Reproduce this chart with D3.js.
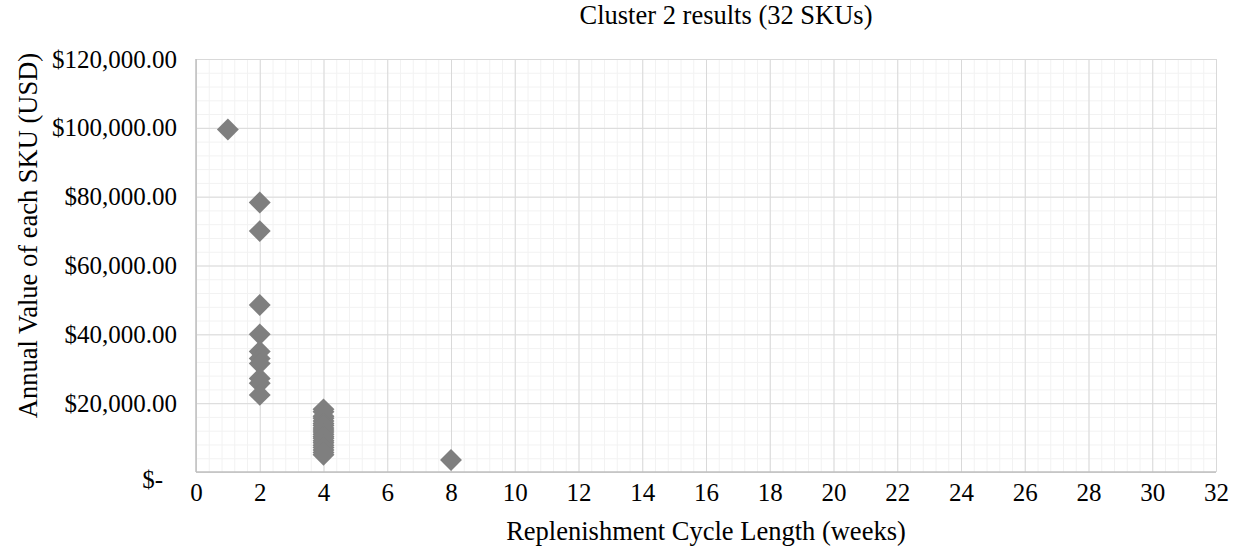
<!DOCTYPE html>
<html lang="en">
<head>
  <meta charset="UTF-8">
  <title>Cluster 2 results</title>
  <script src="https://d3js.org/d3.v7.min.js"></script>
  <style>
    html, body {
      margin: 0;
      padding: 0;
      background: #fff;
    }
    text {
      font-family: "Liberation Serif", "Times New Roman", serif;
      fill: #000;
    }
    .grid-minor line { stroke: #f2f2f2; }
    .grid-major line { stroke: #d9d9d9; }
    .frame { stroke: #bfbfbf; stroke-width: 1.5; }
    .dot { fill: #7f7f7f; }
  </style>
</head>
<body>
  <div id="container"></div>
  <script>
    const width = 1236;
    const height = 551;

    // cycle length (weeks) and annual value (USD) of each SKU
    const cycleWeeks = [1,
      2, 2, 2, 2, 2, 2, 2, 2, 2, 2,
      4, 4, 4, 4, 4, 4, 4, 4, 4, 4, 4, 4, 4, 4, 4, 4, 4, 4, 4, 4,
      8];
    const annualValue = [99500,
      78300, 70000, 48500, 40000, 35000, 33000, 31500, 27200, 25800, 22400,
      18200, 17500, 16200, 15600, 14800, 14100, 13500, 12800, 12200, 11600,
      11000, 10300, 9800, 9100, 8500, 7800, 7100, 6400, 5700, 5000,
      3500];

    const xTicks = d3.range(0, 33, 2);
    const yTicks = d3.range(0, 120001, 20000);

    const title = 'Cluster 2 results (32 SKUs)';
    const xTitle = 'Replenishment Cycle Length (weeks)';
    const yTitle = 'Annual Value of each SKU (USD)';

    const margin = {top: 59, right: 20, bottom: 79, left: 196};
    const plotW = width - margin.left - margin.right;
    const plotH = height - margin.top - margin.bottom;

    const svg = d3.select('#container').append('svg')
      .attr('width', width).attr('height', height);

    const g = svg.append('g').attr('transform', `translate(${margin.left},${margin.top})`);

    const xScale = d3.scaleLinear().domain([0, 32]).range([0, plotW]);
    const yScale = d3.scaleLinear().domain([0, 120000]).range([plotH, 0]);

    // minor grid
    g.append('g').attr('class', 'grid-minor')
      .call(d3.axisBottom(xScale).tickValues(d3.range(0, 32.01, 0.4)).tickSize(-plotH).tickFormat(''))
      .attr('transform', `translate(0,${plotH})`)
      .call(s => s.select('.domain').remove());
    g.append('g').attr('class', 'grid-minor')
      .call(d3.axisLeft(yScale).tickValues(d3.range(0, 120001, 4000)).tickSize(-plotW).tickFormat(''))
      .call(s => s.select('.domain').remove());

    // major grid
    g.append('g').attr('class', 'grid-major')
      .call(d3.axisBottom(xScale).tickValues(xTicks).tickSize(-plotH).tickFormat(''))
      .attr('transform', `translate(0,${plotH})`)
      .call(s => s.select('.domain').remove());
    g.append('g').attr('class', 'grid-major')
      .call(d3.axisLeft(yScale).tickValues(yTicks).tickSize(-plotW).tickFormat(''))
      .call(s => s.select('.domain').remove());

    // left and bottom frame
    g.append('line').attr('class', 'frame')
      .attr('x1', 0).attr('x2', 0).attr('y1', 0).attr('y2', plotH);
    g.append('line').attr('class', 'frame')
      .attr('x1', 0).attr('x2', plotW).attr('y1', plotH).attr('y2', plotH);

    // tick labels
    const fmt = d3.format(',.2f');
    g.append('g').attr('class', 'x-labels')
      .call(d3.axisBottom(xScale).tickValues(xTicks).tickSize(0).tickPadding(11))
      .attr('transform', `translate(0,${plotH})`)
      .call(s => s.select('.domain').remove())
      .selectAll('text').style('font-size', '25px');

    g.append('g').attr('class', 'y-labels')
      .call(d3.axisLeft(yScale).tickValues(yTicks).tickSize(0).tickPadding(19)
        .tickFormat(d => d === 0 ? '$-' : '$' + fmt(d)))
      .call(s => s.select('.domain').remove())
      .selectAll('text').style('font-size', '25px')
      .attr('dx', d => d === 0 ? -14 : 0)
      .attr('y', d => d === 0 ? 7 : 0);

    // points
    const diamond = d3.symbol().type(d3.symbolSquare).size(240);
    g.selectAll('.dot').data(cycleWeeks).join('path')
      .attr('class', 'dot')
      .attr('d', diamond)
      .attr('transform', (d, i) => `translate(${xScale(d)},${yScale(annualValue[i])}) rotate(45)`);

    // titles
    svg.append('text').attr('x', 726).attr('y', 24)
      .attr('text-anchor', 'middle').style('font-size', '26.5px').text(title);
    svg.append('text').attr('x', margin.left + plotW / 2).attr('y', 540)
      .attr('text-anchor', 'middle').style('font-size', '26.5px').text(xTitle);
    svg.append('text').attr('transform', `translate(37,${margin.top + plotH / 2 - 30}) rotate(-90)`)
      .attr('text-anchor', 'middle').style('font-size', '26.5px').text(yTitle);
  </script>
</body>
</html>
